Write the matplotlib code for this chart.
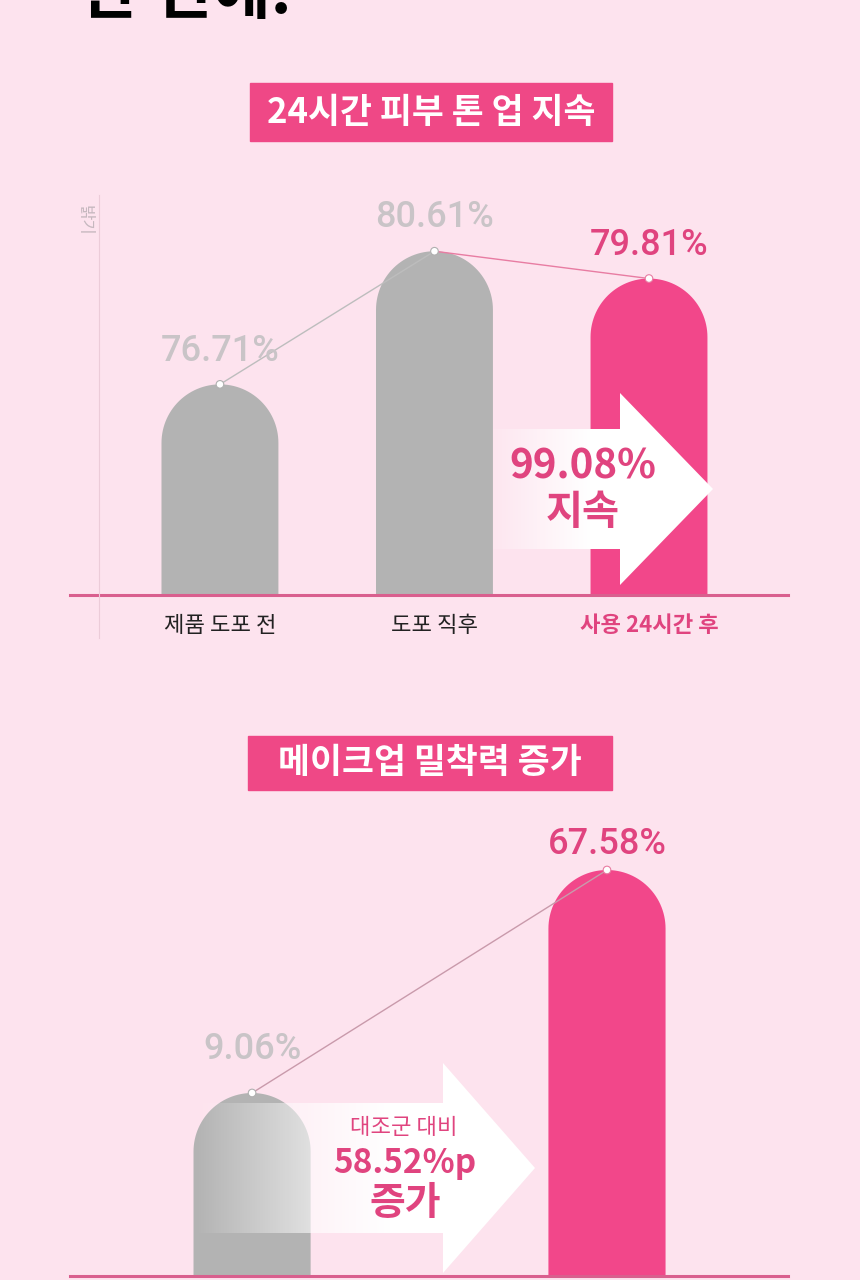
import numpy as np
import matplotlib
matplotlib.use("Agg")
import matplotlib.pyplot as plt
from matplotlib.patches import Rectangle, Polygon

plt.rcParams['font.family'] = ['Noto Sans CJK KR', 'DejaVu Sans']

# 차트 1: 24시간 피부 톤 업 지속
tone_title = '24시간 피부 톤 업 지속'
tone_labels = ['제품 도포 전', '도포 직후', '사용 24시간 후']
tone_values = [76.71, 80.61, 79.81]
tone_keep = ['99.08%', '지속']

# 차트 2: 메이크업 밀착력 증가
adh_title = '메이크업 밀착력 증가'
adh_values = [9.06, 67.58]
adh_gain = ['대조군 대비', '58.52%p', '증가']

# 색상
BG = '#fde3ee'
PINK = '#f2478a'
PINK_TXT = '#e0447f'
LINE_PINK = '#d95f8e'
GRAY = '#b3b3b3'
GRAY_TXT = '#c9c4c7'
NUM_FONT = ['Roboto', 'Noto Sans CJK KR']

W, H = 860, 1280
fig = plt.figure(figsize=(W / 100, H / 100), dpi=100, facecolor=BG)


def box(x0, y0, x1, y1):
    # 픽셀(왼쪽 위 기준) -> figure 비율
    return [x0 / W, 1 - y1 / H, (x1 - x0) / W, (y1 - y0) / H]


def round_bars(ax, xs, vals, width, r_px, colors):
    # 윗부분이 반원인 막대 (한 덩어리로 그려서 이음새 없음)
    y0, y1 = ax.get_ylim()
    ppu = ax.get_position().height * H / (y1 - y0)
    r = r_px / ppu
    t = np.linspace(0, np.pi, 60)
    for x, v, c in zip(xs, vals, colors):
        px = np.concatenate([[x + width / 2], x + width / 2 * np.cos(t), [x - width / 2]])
        py = np.concatenate([[y0], v - r + r * np.sin(t), [y0]])
        ax.fill(px, py, color=c, zorder=2, linewidth=0)


def style_axes(ax):
    ax.set_facecolor('none')
    for s in ['top', 'right', 'left']:
        ax.spines[s].set_visible(False)
    ax.spines['bottom'].set_color(LINE_PINK)
    ax.spines['bottom'].set_linewidth(2.2)
    ax.spines['bottom'].set_zorder(3)
    ax.set_yticks([])
    ax.tick_params(axis='x', length=0, pad=14)


# ---- 차트 1 ----
ax1 = fig.add_axes(box(70, 185, 788, 595))
x1 = np.arange(len(tone_values))
ax1.set_xlim(-0.699, 2.648)
ax1.set_ylim(70.54, 82.55)
style_axes(ax1)
round_bars(ax1, x1, tone_values, 0.545, 58.5, [GRAY, GRAY, PINK])
ax1.set_ylim(70.54, 82.55)
ax1.plot(x1[:2], tone_values[:2], color='#bdbdbd', lw=1, zorder=3)
ax1.plot(x1[1:], tone_values[1:], color='#e87ca2', lw=1, zorder=3)
ax1.scatter(x1, tone_values, s=30, facecolor='white',
            edgecolor=['#b0b0b0', '#b0b0b0', '#e87ca2'], linewidth=0.8, zorder=4)
for i, v in enumerate(tone_values):
    ax1.annotate(f'{v:.2f}%', (x1[i], v), xytext=(0, 24), textcoords='offset points',
                 ha='center', va='center', fontsize=26, fontweight='medium',
                 family=NUM_FONT, color=PINK_TXT if i == 2 else GRAY_TXT, zorder=5)
ax1.set_xticks(x1, tone_labels, fontsize=16)
for i, t in enumerate(ax1.get_xticklabels()):
    t.set_color(PINK_TXT if i == 2 else '#222222')
    if i == 2:
        t.set_fontweight('bold')

# ---- 차트 2 ----
ax2 = fig.add_axes(box(70, 820, 788, 1276))
x2 = np.arange(len(adh_values))
ax2.set_xlim(-0.513, 1.51)
ax2.set_ylim(-38.97, 80.7)
style_axes(ax2)
ax2.set_xticks([])
round_bars(ax2, x2, adh_values, 0.33, 58.5, [GRAY, PINK])
ax2.set_ylim(-38.97, 80.7)
ax2.plot(x2, adh_values, color='#c99aab', lw=1, zorder=3)
ax2.scatter(x2, adh_values, s=30, facecolor='white',
            edgecolor=['#b0b0b0', '#e87ca2'], linewidth=0.8, zorder=4)
gaps = [31, 18]
for i, v in enumerate(adh_values):
    ax2.annotate(f'{v:.2f}%', (x2[i], v), xytext=(0, gaps[i]), textcoords='offset points',
                 ha='center', va='center', fontsize=26, fontweight='medium',
                 family=NUM_FONT, color=PINK_TXT if i == 1 else GRAY_TXT, zorder=5)

# ---- 장식용 오버레이 (픽셀 좌표) ----
ov = fig.add_axes([0, 0, 1, 1])
ov.patch.set_alpha(0)
ov.axis('off')


def grad_arrow(x0, x_head, x_tip, y_mid, shaft_h, head_h, a0, fade_end):
    pts = [(x0, y_mid - shaft_h / 2), (x_head, y_mid - shaft_h / 2),
           (x_head, y_mid - head_h / 2), (x_tip, y_mid),
           (x_head, y_mid + head_h / 2), (x_head, y_mid + shaft_h / 2),
           (x0, y_mid + shaft_h / 2)]
    poly = Polygon(pts, closed=True, facecolor='none', edgecolor='none')
    ov.add_patch(poly)
    xs = np.linspace(x0, x_tip, 300)
    img = np.ones((1, 300, 4))
    img[..., 3] = np.clip(a0 + (1 - a0) * (xs - x0) / (fade_end - x0), 0, 1)
    im = ov.imshow(img, extent=(x0, x_tip, y_mid + head_h / 2, y_mid - head_h / 2),
                   aspect='auto', interpolation='bilinear', zorder=3)
    im.set_clip_path(poly)


# 상단 잘린 제목
ov.text(80, 13, '한 번에.', fontsize=46, fontweight='black', color='black',
        ha='left', va='baseline')

# 제목 박스
for (bx0, by0, bx1, by1), title in [((250, 83, 612, 141), tone_title),
                                     ((248, 736, 612, 790), adh_title)]:
    ov.add_patch(Rectangle((bx0, by0), bx1 - bx0, by1 - by0, color='#ef4886', zorder=2))
    ov.text((bx0 + bx1) / 2, (by0 + by1) / 2, title, fontsize=25, fontweight='bold',
            color='white', ha='center', va='center', zorder=3)

# 세로 축선과 라벨
ov.plot([99, 99], [195, 638], color='#ecccd9', lw=0.8, zorder=1)
ov.text(84, 220, '밝기', fontsize=12, color='#c6b8bf', rotation=270,
        ha='center', va='center')

# 화살표 1
grad_arrow(493, 620, 713, 489, 120, 192, 0.1, 590)
ov.text(583, 467, tone_keep[0], fontsize=29, fontweight='bold', color=PINK_TXT,
        ha='center', va='center', zorder=4)
ov.text(583, 513, tone_keep[1], fontsize=29, fontweight='bold', color=PINK_TXT,
        ha='center', va='center', zorder=4)

# 화살표 2
grad_arrow(195, 443, 535, 1168, 130, 210, 0.0, 390)
ov.text(404, 1127, adh_gain[0], fontsize=16, color=PINK_TXT,
        ha='center', va='center', zorder=4)
ov.text(405, 1163, adh_gain[1], fontsize=24, fontweight='bold', color=PINK_TXT,
        ha='center', va='center', zorder=4)
ov.text(405, 1203, adh_gain[2], fontsize=28, fontweight='bold', color=PINK_TXT,
        ha='center', va='center', zorder=4)

ov.set_xlim(0, W)
ov.set_ylim(H, 0)

fig.savefig('out.png', dpi=100, facecolor=BG)
